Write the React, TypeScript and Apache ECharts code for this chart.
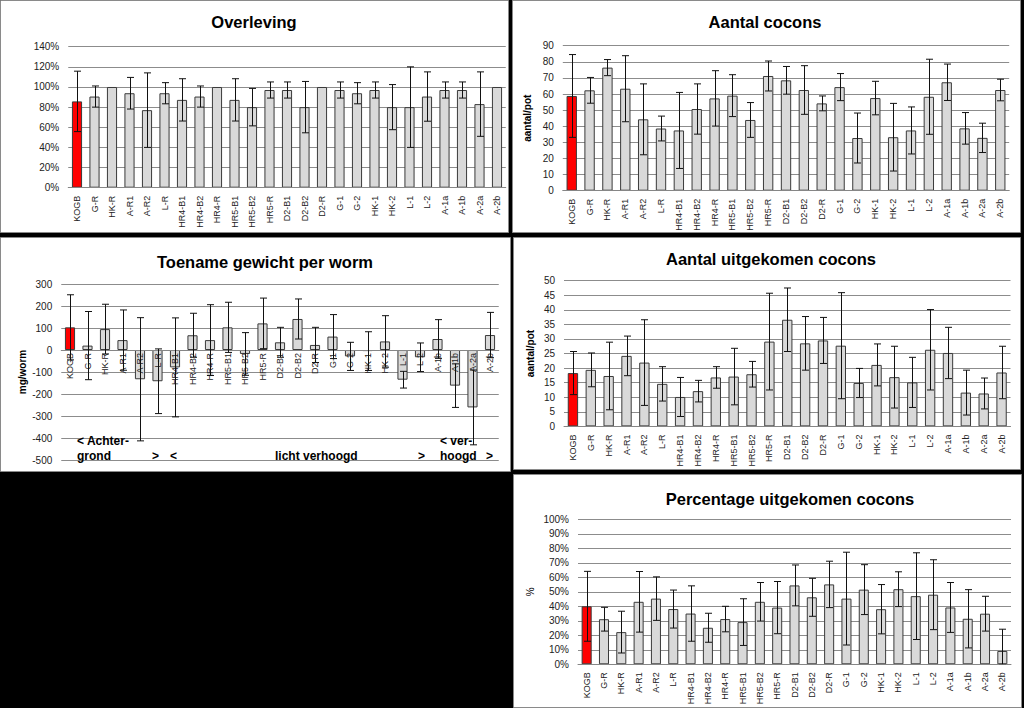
import React, { useEffect, useRef } from "react";
import * as echarts from "echarts";

const categories = ["KOGB", "G-R", "HK-R", "A-R1", "A-R2", "L-R", "HR4-B1", "HR4-B2", "HR4-R", "HR5-B1", "HR5-B2", "HR5-R", "D2-B1", "D2-B2", "D2-R", "G-1", "G-2", "HK-1", "HK-2", "L-1", "L-2", "A-1a", "A-1b", "A-2a", "A-2b"];
const categoriesToename = ["KOGB", "G-R", "HK-R", "A-R1", "A-R2", "L-R", "HR4-B1", "HR4-B2", "HR4-R", "HR5-B1", "HR5-B2", "HR5-R", "D2-B1", "D2-B2", "D2-R", "G-1", "G-2", "HK-1", "HK-2", "L-1", "L-2", "A-1b", "A-1b", "A-2a", "A-2b"];

// Overleving (%)
const overleving = [85.7, 90.5, 100, 93.8, 77, 93.8, 87.2, 90.5, 100, 87.2, 80, 97, 97, 80, 100, 97, 93.8, 97, 80, 80, 90.5, 97, 97, 83, 100];
const overlevingErr = [30, 10.5, 0, 15.7, 37, 10.5, 21, 10.5, 0, 21, 18.6, 8, 8, 25.5, 0, 8, 10.5, 8, 22.4, 40, 24.5, 8, 8, 32, 0];

// Aantal cocons (aantal/pot)
const aantalCocons = [58.8, 62.3, 76.4, 63.3, 44.3, 38.6, 37.4, 50.7, 57.3, 59, 43.9, 71.2, 68.5, 62.5, 54.2, 64.3, 32.7, 57.5, 33.2, 37.4, 58.3, 67.3, 38.7, 32.8, 62.5];
const aantalCoconsErr = [25.7, 8, 5, 20.5, 22, 7.7, 23.6, 15.6, 17.2, 13, 10.8, 9.3, 8.6, 15.1, 4.6, 8.4, 15.5, 10.4, 21, 14.6, 23.3, 11.3, 9.8, 9.1, 6.7];

// Toename gewicht per worm (mg/worm)
const toename = [103, 20, 95, 45, -133, -142, -79, 67, 45, 103, -18, 121, 35, 141, 23, 61, -29, -5, 39, -135, -33, 50, -162, -261, 68];
const toenameErr = [148, 155, 113, 137, 280, 147, 225, 100, 161, 114, 97, 115, 68, 91, 80, 100, 64, 88, 117, 38, 65, 88, 99, 170, 103];

// Aantal uitgekomen cocons (aantal/pot)
const uitgekomen = [18.3, 19.4, 17.3, 24.2, 21.9, 14.6, 10.1, 12.1, 16.8, 17.1, 17.9, 29.1, 36.6, 28.5, 29.5, 27.7, 14.9, 21.1, 16.9, 15.1, 26.3, 25.2, 11.6, 11.3, 18.5];
const uitgekomenErr = [7.4, 5.8, 11.6, 6.8, 14.7, 5.9, 6.7, 3.7, 3.7, 9.7, 4.4, 16.6, 10.9, 9.2, 7.9, 18.2, 5, 7.2, 10.6, 8.6, 13.8, 8.8, 7.7, 5.3, 9];

// Percentage uitgekomen cocons (%)
const percentage = [40, 31.1, 22.2, 43.1, 45.3, 38.1, 35, 25.2, 31.2, 29.1, 43.1, 39.1, 54.4, 46.2, 55.1, 45.3, 51.5, 38, 51.8, 47, 48, 39.2, 31.4, 34.9, 9.2];
const percentageErr = [24.1, 8.2, 14.4, 20.9, 15, 13.1, 19.1, 10, 8.8, 16.1, 13.3, 18, 14.1, 13.1, 16, 32, 17.2, 17, 12, 29.9, 24.1, 17.2, 20.1, 12, 15];

const FONT = "Liberation Sans, Arial, sans-serif";

type Panel = {
  title: string;
  titleX: number;
  titleY: number;
  rect: [number, number, number, number];
  grid: { left: number; top: number; width: number; height: number };
  cats: string[];
  values: number[];
  errs: number[];
  min: number;
  max: number;
  interval: number;
  percent: boolean;
  yName: string;
  yNameGap: number;
  yNameBold: boolean;
  labelMargin: number;
};

const panels: Panel[] = [
  {
    title: "Overleving", titleX: 254, titleY: 22, rect: [0, 0, 509, 233],
    grid: { left: 68.25, top: 46.7, width: 437.5, height: 141 },
    cats: categories, values: overleving, errs: overlevingErr,
    min: 0, max: 140, interval: 20, percent: true, yName: "", yNameGap: 0, yNameBold: false, labelMargin: 8,
  },
  {
    title: "Aantal cocons", titleX: 765, titleY: 22, rect: [512, 0, 509, 233],
    grid: { left: 562.8, top: 45.7, width: 446.4, height: 145 },
    cats: categories, values: aantalCocons, errs: aantalCoconsErr,
    min: 0, max: 90, interval: 10, percent: false, yName: "aantal/pot", yNameGap: 30, yNameBold: true, labelMargin: 8,
  },
  {
    title: "Toename gewicht per worm", titleX: 265, titleY: 262, rect: [0, 237, 511, 235],
    grid: { left: 61.25, top: 284, width: 437.5, height: 176 },
    cats: categoriesToename, values: toename, errs: toenameErr,
    min: -500, max: 300, interval: 100, percent: false, yName: "mg/worm", yNameGap: 34, yNameBold: true, labelMargin: 3,
  },
  {
    title: "Aantal uitgekomen cocons", titleX: 771, titleY: 259, rect: [513, 237, 508, 233],
    grid: { left: 564, top: 280.7, width: 446.5, height: 145.7 },
    cats: categories, values: uitgekomen, errs: uitgekomenErr,
    min: 0, max: 50, interval: 5, percent: false, yName: "aantal/pot", yNameGap: 29, yNameBold: true, labelMargin: 8,
  },
  {
    title: "Percentage uitgekomen cocons", titleX: 790, titleY: 499, rect: [513, 474, 509, 234],
    grid: { left: 578, top: 519.3, width: 433, height: 145 },
    cats: categories, values: percentage, errs: percentageErr,
    min: 0, max: 100, interval: 10, percent: true, yName: "%", yNameGap: 43, yNameBold: false, labelMargin: 8,
  },
];

const annotations = [
  { text: "< Achter-", x: 77, y: 441 },
  { text: "grond", x: 77, y: 456 },
  { text: ">", x: 152, y: 456 },
  { text: "<", x: 170, y: 456 },
  { text: "licht verhoogd", x: 275, y: 456 },
  { text: ">", x: 418, y: 456 },
  { text: "< ver-", x: 440, y: 441 },
  { text: "hoogd", x: 440, y: 456 },
  { text: ">", x: 486, y: 456 },
];

function errorRender(_params: any, api: any) {
  const x = api.value(0);
  const lo = api.value(1);
  const hi = api.value(2);
  const pHi = api.coord([x, hi]);
  const pLo = api.coord([x, lo]);
  const half = 3.5;
  const style = { stroke: "#111", lineWidth: 1 };
  const cx = Math.round(pHi[0]) + 0.5;
  return {
    type: "group",
    children: [
      { type: "line", shape: { x1: cx, y1: pHi[1], x2: cx, y2: pLo[1] }, style },
      { type: "line", shape: { x1: cx - half, y1: pHi[1], x2: cx + half, y2: pHi[1] }, style },
      { type: "line", shape: { x1: cx - half, y1: pLo[1], x2: cx + half, y2: pLo[1] }, style },
    ],
  };
}

export default function App() {
  const ref = useRef<HTMLDivElement>(null);
  useEffect(() => {
    if (!ref.current) return;
    const chart = echarts.init(ref.current, undefined, { renderer: "svg" });

    const graphic: any[] = [];
    panels.forEach((p) => {
      graphic.push({
        type: "rect", z: -10, silent: true,
        shape: { x: p.rect[0] + 0.5, y: p.rect[1] + 0.5, width: p.rect[2] - 1, height: p.rect[3] - 1 },
        style: { fill: "#ffffff", stroke: "#8a8a8a", lineWidth: 1 },
      });
      graphic.push({
        type: "text", z: 100, x: p.titleX, y: p.titleY,
        style: { text: p.title, fill: "#000", font: `bold 16.5px ${FONT}`, textAlign: "center", textVerticalAlign: "middle" },
      });
    });
    annotations.forEach((a) => {
      graphic.push({
        type: "text", z: 100, x: a.x, y: a.y,
        style: { text: a.text, fill: "#000", font: `bold 12px ${FONT}`, textAlign: "left", textVerticalAlign: "middle" },
      });
    });

    const grids = panels.map((p) => ({ ...p.grid, containLabel: false }));
    const xAxes = panels.map((p, i) => {
      // place the category axis at the value 0 line
      const zeroOffset = p.min < 0 ? -(p.grid.height * (0 - p.min)) / (p.max - p.min) : 0;
      return {
        type: "category", gridIndex: i, data: p.cats, z: 5, position: "bottom", offset: zeroOffset,
        axisTick: { show: false },
        axisLine: { onZero: false, lineStyle: { color: "#868686", width: 1 } },
        axisLabel: { rotate: 90, fontSize: 9, color: "#222", interval: 0, margin: p.labelMargin, fontFamily: FONT },
      };
    });
    const yAxes = panels.map((p, i) => ({
      type: "value", gridIndex: i, min: p.min, max: p.max, interval: p.interval,
      axisLine: { show: false }, axisTick: { show: false },
      splitLine: { lineStyle: { color: "#8c8c8c", width: 1 } },
      axisLabel: {
        fontSize: 10, color: "#222", margin: 9, fontFamily: FONT,
        formatter: (v: number) => (p.percent ? `${v}%` : `${v}`),
      },
      name: p.yName, nameLocation: "middle", nameRotate: 90, nameGap: p.yNameGap,
      nameTextStyle: { fontSize: 10, fontWeight: p.yNameBold ? "bold" : "normal", color: "#000", fontFamily: FONT },
    }));

    const series: any[] = [];
    panels.forEach((p, i) => {
      series.push({
        type: "bar", xAxisIndex: i, yAxisIndex: i, barWidth: "58%",
        data: p.values.map((v, j) => ({
          value: v,
          itemStyle: { color: j === 0 ? "#ff0000" : "#d9d9d9", borderColor: "#3a3a3a", borderWidth: 1 },
        })),
      });
      series.push({
        type: "custom", xAxisIndex: i, yAxisIndex: i, z: 6, clip: true,
        renderItem: errorRender,
        data: p.values
          .map((v, j) => [j, Math.max(p.min, v - p.errs[j]), v + p.errs[j], p.errs[j]])
          .filter((d) => d[3] > 0),
      });
    });

    chart.setOption({
      animation: false,
      backgroundColor: "#000000",
      textStyle: { fontFamily: FONT },
      grid: grids,
      xAxis: xAxes,
      yAxis: yAxes,
      series,
      graphic,
    });
    return () => chart.dispose();
  }, []);

  return <div ref={ref} style={{ position: "absolute", left: 0, top: 0, width: 1024, height: 708 }} />;
}
